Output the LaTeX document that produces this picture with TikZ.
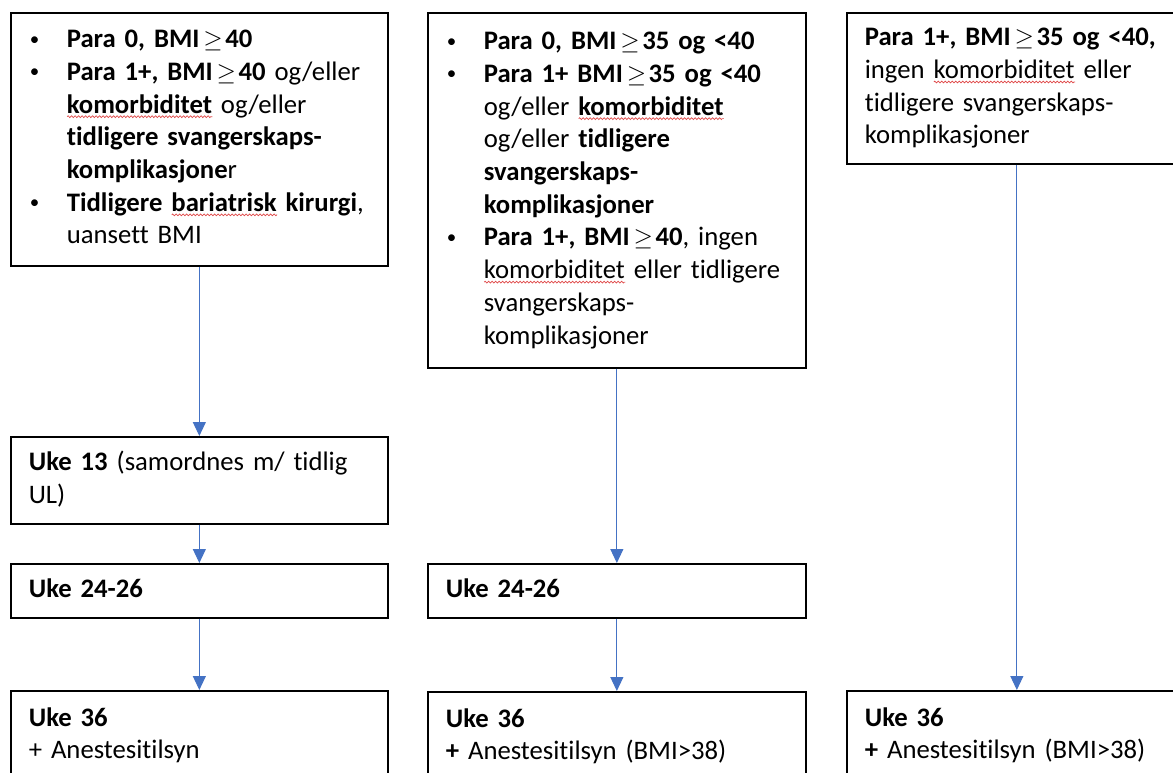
\documentclass[tikz,border=0pt]{standalone}
\usepackage{fontspec}
\setmainfont{Carlito}[Ligatures=NoCommon]
\usetikzlibrary{arrows.meta,decorations.pathmorphing}
\definecolor{arrowblue}{HTML}{4472C4}
\definecolor{spellred}{HTML}{E04848}
\frenchspacing
\newsavebox\spellbox
\newlength\spellwd
\newcommand\spell[1]{\sbox\spellbox{#1}\setlength\spellwd{\wd\spellbox}%
\rlap{\tikz[x=1pt,y=1pt,baseline=0pt]{\path (0,0); \draw[spellred, line width=0.7pt, decorate,
 decoration={zigzag, segment length=3.5pt, amplitude=0.9pt}] (0,-3.5) -- (\spellwd,-3.5);}}\usebox\spellbox}
\newcommand\bul{\makebox[38pt][l]{\hspace{1pt}{\fontsize{19pt}{19pt}\selectfont\raisebox{2.5pt}{\textbullet}}}}
\newcommand\ind{\hspace*{38pt}}
\newcommand\gtq{\kern4pt\ensuremath{\geq}\kern2.5pt}
\tikzset{
  box/.style={draw=black, line width=1.7pt, rectangle, anchor=north west, align=left,
    inner xsep=18pt, inner ysep=0pt, font=\fontsize{26.7pt}{32.7pt}\selectfont},
  arr/.style={draw=arrowblue, line width=1pt, -{Triangle[width=13pt,length=14pt]}}
}
\begin{document}
\begin{tikzpicture}[x=1pt,y=-1pt]
\useasboundingbox (0,0) rectangle (1173,772);
\clip (0,0) rectangle (1173,772);
\fill[white] (0,0) rectangle (1173,772);
% column 1
\node[box, text width=341pt, minimum height=253pt] (a1) at (10,12) {%
\strut\mbox{\bul\textbf{Para 0, BMI\gtq 40}}\\
\mbox{\bul\textbf{Para 1+, BMI\gtq 40} og/eller}\\
\mbox{\ind\textbf{\spell{komorbiditet}} og/eller}\\
\mbox{\ind\textbf{tidligere svangerskaps-}}\\
\mbox{\ind\textbf{komplikasjone}r}\\
\mbox{\bul\textbf{Tidligere \spell{bariatrisk} kirurgi}, }\\
\mbox{\ind uansett BMI}\strut};
\node[box, text width=341pt, minimum height=87pt] (b1) at (10,436) {%
\strut\textbf{Uke 13} (samordnes m/ tidlig\\UL)\strut};
\node[box, text width=341pt, minimum height=54pt] (c1) at (10,563) {\strut\textbf{Uke 24-26}\strut};
\node[box, text width=341pt, minimum height=90pt] (d1) at (10,690) {%
\strut\textbf{Uke 36}\\+ Anestesitilsyn\strut};
% column 2
\node[box, text width=342pt, minimum height=355pt] (a2) at (427,12) {%
\strut\mbox{\bul\textbf{Para 0, BMI\gtq 35 og <40}}\\
\mbox{\bul\textbf{Para 1+ BMI\gtq 35 og <40}}\\
\mbox{\ind og/eller \textbf{\spell{komorbiditet}}}\\
\mbox{\ind og/eller \textbf{tidligere}}\\
\mbox{\ind\textbf{svangerskaps-}}\\
\mbox{\ind\textbf{komplikasjoner}}\\
\mbox{\bul\textbf{Para 1+, BMI\gtq 40}, ingen}\\
\mbox{\ind\spell{komorbiditet} eller tidligere}\\
\mbox{\ind svangerskaps-}\\
\mbox{\ind komplikasjoner}\strut};
\node[box, text width=342pt, minimum height=54pt] (c2) at (427,563) {\strut\textbf{Uke 24-26}\strut};
\node[box, text width=342pt, minimum height=90pt] (d2) at (427,691) {%
\strut\textbf{Uke 36}\\\textbf{+} Anestesitilsyn (BMI>38)\strut};
% column 3
\node[box, text width=304pt, minimum height=151pt] (a3) at (846,12) {%
\strut\mbox{\textbf{Para 1+, BMI\gtq 35 og <40,}}\\
\mbox{ingen \spell{komorbiditet} eller}\\
\mbox{tidligere svangerskaps-}\\
\mbox{komplikasjoner}\strut};
\node[box, text width=304pt, minimum height=90pt] (d3) at (846,690) {%
\strut\textbf{Uke 36}\\\textbf{+} Anestesitilsyn (BMI>38)\strut};
% connectors
\draw[arr] (a1.south) -- (b1.north);
\draw[arr] (b1.south) -- (c1.north);
\draw[arr] (c1.south) -- (d1.north);
\draw[arr] (a2.south) -- (c2.north);
\draw[arr] (c2.south) -- (d2.north);
\draw[arr] (a3.south) -- (d3.north);
\end{tikzpicture}
\end{document}
